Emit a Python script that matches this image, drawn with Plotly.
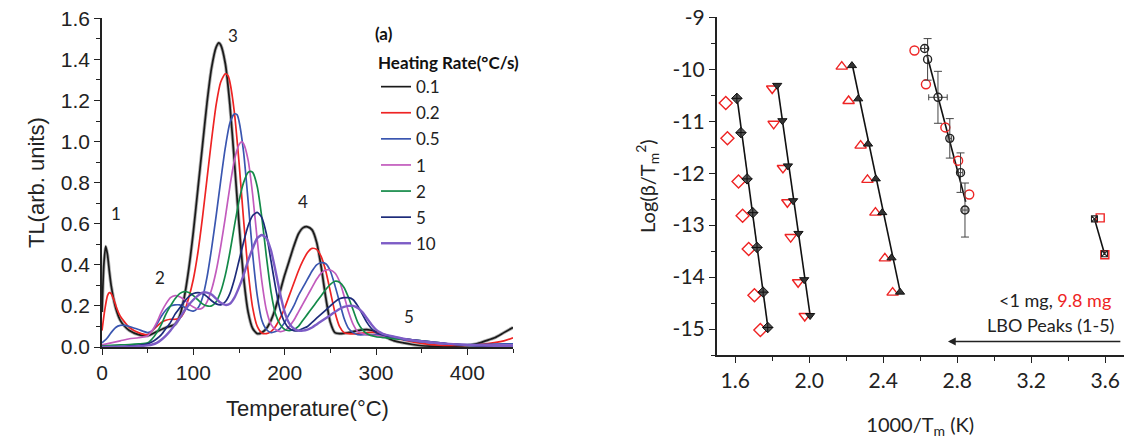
import plotly.graph_objects as go

# ---------------- Left panel: TL glow curves ----------------
rates = ["0.1", "0.2", "0.5", "1", "2", "5", "10"]
colors = ["#1a1a1a", "#ee2424", "#3a56b0", "#c25bbd", "#138a48", "#1d2b7a", "#7d5cc6"]

T_01 = [0, 2, 4, 6, 8, 10, 15, 20, 25, 30, 40, 50, 60, 70, 80, 85, 90, 95, 100, 105, 110, 115, 120, 125, 128, 130,
        135, 140, 145, 150, 155, 160, 165, 170, 175, 180, 185, 190, 195, 200, 205, 210, 215, 220, 225, 230, 235, 240,
        245, 250, 255, 260, 270, 280, 290, 300, 310, 320, 330, 340, 350, 360, 380, 400, 410, 420, 430, 440, 450]
TL_01 = [0.17, 0.40, 0.49, 0.45, 0.37, 0.30, 0.19, 0.13, 0.10, 0.08, 0.06, 0.055, 0.075, 0.095, 0.11, 0.15, 0.24,
         0.38, 0.56, 0.77, 0.98, 1.19, 1.36, 1.46, 1.48, 1.47, 1.38, 1.18, 0.90, 0.60, 0.34, 0.17, 0.09, 0.065, 0.07,
         0.09, 0.13, 0.19, 0.27, 0.35, 0.42, 0.49, 0.55, 0.58, 0.585, 0.57, 0.51, 0.39, 0.24, 0.12, 0.07, 0.065, 0.07,
         0.08, 0.085, 0.075, 0.05, 0.03, 0.02, 0.012, 0.006, 0.004, 0.003, 0.008, 0.015, 0.03, 0.045, 0.07, 0.095]

T_02 = [0, 3, 6, 8, 10, 13, 16, 20, 25, 30, 40, 50, 55, 60, 65, 70, 75, 80, 85, 90, 95, 100, 105, 110, 115, 120, 125,
        130, 135, 138, 140, 145, 150, 155, 160, 165, 170, 175, 180, 185, 190, 195, 200, 205, 210, 215, 220, 225, 230,
        235, 240, 245, 250, 255, 260, 265, 270, 280, 290, 300, 310, 320, 330, 340, 350, 360, 380, 400, 420, 440, 450]
TL_02 = [0.08, 0.18, 0.25, 0.265, 0.26, 0.23, 0.19, 0.15, 0.12, 0.095, 0.07, 0.06, 0.08, 0.10, 0.12, 0.13, 0.135,
         0.135, 0.14, 0.17, 0.24, 0.33, 0.46, 0.63, 0.82, 1.01, 1.18, 1.29, 1.33, 1.32, 1.29, 1.14, 0.90, 0.62, 0.37,
         0.19, 0.10, 0.068, 0.065, 0.075, 0.10, 0.14, 0.19, 0.25, 0.31, 0.37, 0.42, 0.46, 0.48, 0.475, 0.44, 0.37,
         0.27, 0.17, 0.10, 0.07, 0.065, 0.065, 0.07, 0.07, 0.06, 0.045, 0.035, 0.025, 0.018, 0.012, 0.008, 0.008,
         0.015, 0.03, 0.045]

T_05 = [0, 5, 10, 15, 20, 25, 30, 40, 50, 55, 60, 65, 70, 75, 80, 85, 90, 95, 100, 105, 110, 115, 120, 125, 130, 135,
        140, 145, 148, 150, 155, 160, 165, 170, 175, 180, 185, 190, 195, 200, 205, 210, 215, 220, 225, 230, 235, 240,
        245, 250, 255, 260, 265, 270, 275, 280, 290, 300, 310, 320, 330, 340, 350, 360, 380, 400, 420, 440, 450]
TL_05 = [0.02, 0.04, 0.07, 0.095, 0.105, 0.105, 0.10, 0.085, 0.07, 0.08, 0.11, 0.15, 0.18, 0.20, 0.205, 0.205, 0.195,
         0.18, 0.175, 0.19, 0.24, 0.34, 0.48, 0.64, 0.81, 0.97, 1.09, 1.135, 1.13, 1.10, 0.95, 0.71, 0.45, 0.25, 0.13,
         0.085, 0.07, 0.075, 0.09, 0.12, 0.16, 0.20, 0.25, 0.29, 0.33, 0.37, 0.40, 0.41, 0.405, 0.37, 0.30, 0.22,
         0.14, 0.09, 0.07, 0.06, 0.06, 0.06, 0.055, 0.045, 0.035, 0.03, 0.025, 0.02, 0.015, 0.012, 0.013, 0.015, 0.015]

T_1 = [0, 10, 20, 30, 40, 50, 55, 60, 65, 70, 75, 80, 85, 90, 95, 100, 105, 110, 115, 120, 125, 130, 135, 140, 145,
       150, 153, 155, 160, 165, 170, 175, 180, 185, 190, 195, 200, 205, 210, 215, 220, 225, 230, 235, 240, 245, 250,
       255, 260, 265, 270, 275, 280, 290, 300, 310, 320, 330, 340, 350, 360, 380, 400, 420, 440, 450]
TL_1 = [0.01, 0.02, 0.03, 0.04, 0.045, 0.055, 0.08, 0.12, 0.17, 0.21, 0.24, 0.25, 0.245, 0.23, 0.21, 0.195, 0.185,
        0.19, 0.22, 0.28, 0.37, 0.49, 0.63, 0.78, 0.91, 0.985, 1.0, 0.99, 0.91, 0.74, 0.52, 0.32, 0.18, 0.11, 0.085,
        0.075, 0.08, 0.10, 0.13, 0.17, 0.21, 0.25, 0.29, 0.33, 0.36, 0.375, 0.375, 0.36, 0.32, 0.25, 0.17, 0.11,
        0.075, 0.06, 0.055, 0.05, 0.045, 0.04, 0.035, 0.028, 0.022, 0.015, 0.01, 0.008, 0.008, 0.008]

T_2 = [0, 10, 20, 30, 40, 50, 55, 60, 65, 70, 75, 80, 85, 90, 95, 100, 105, 110, 115, 120, 125, 130, 135, 140, 145,
       150, 155, 160, 163, 165, 170, 175, 180, 185, 190, 195, 200, 205, 210, 215, 220, 225, 230, 235, 240, 245, 250,
       255, 260, 265, 270, 275, 280, 285, 290, 300, 310, 320, 330, 340, 350, 360, 380, 400, 420, 440, 450]
TL_2 = [0.005, 0.008, 0.01, 0.012, 0.015, 0.02, 0.04, 0.07, 0.11, 0.16, 0.20, 0.235, 0.26, 0.27, 0.265, 0.25, 0.23,
        0.21, 0.20, 0.20, 0.22, 0.27, 0.35, 0.46, 0.59, 0.71, 0.80, 0.85, 0.855, 0.85, 0.78, 0.63, 0.44, 0.27, 0.16,
        0.11, 0.085, 0.08, 0.085, 0.10, 0.13, 0.16, 0.19, 0.22, 0.25, 0.28, 0.305, 0.32, 0.315, 0.29, 0.24, 0.18,
        0.12, 0.085, 0.065, 0.05, 0.045, 0.04, 0.038, 0.035, 0.03, 0.025, 0.015, 0.008, 0.005, 0.005, 0.005]

T_5 = [0, 20, 30, 40, 50, 55, 60, 65, 70, 75, 80, 85, 90, 95, 100, 105, 110, 115, 120, 125, 130, 135, 140, 145, 150,
       155, 160, 165, 170, 175, 180, 185, 190, 195, 200, 205, 210, 215, 220, 225, 230, 235, 240, 245, 250, 255, 260,
       265, 270, 275, 280, 285, 290, 295, 300, 310, 320, 330, 340, 350, 360, 380, 400, 420, 440, 450]
TL_5 = [0.0, 0.002, 0.005, 0.008, 0.015, 0.025, 0.04, 0.06, 0.09, 0.12, 0.16, 0.19, 0.22, 0.245, 0.26, 0.265, 0.26,
        0.245, 0.225, 0.21, 0.205, 0.22, 0.26, 0.33, 0.42, 0.51, 0.59, 0.64, 0.655, 0.63, 0.55, 0.42, 0.29, 0.18,
        0.12, 0.09, 0.08, 0.08, 0.09, 0.10, 0.12, 0.14, 0.16, 0.18, 0.20, 0.22, 0.235, 0.24, 0.24, 0.23, 0.20, 0.16,
        0.12, 0.09, 0.07, 0.055, 0.048, 0.04, 0.035, 0.03, 0.025, 0.015, 0.008, 0.004, 0.003, 0.003]

T_10 = [0, 20, 30, 40, 50, 55, 60, 65, 70, 75, 80, 85, 90, 95, 100, 105, 110, 115, 120, 125, 130, 135, 140, 145, 150,
        155, 160, 165, 170, 175, 180, 185, 190, 195, 200, 205, 210, 215, 220, 225, 230, 235, 240, 245, 250, 255, 260,
        265, 270, 275, 280, 285, 290, 295, 300, 305, 310, 320, 330, 340, 350, 360, 380, 400, 420, 440, 450]
TL_10 = [0.0, 0.001, 0.002, 0.004, 0.008, 0.012, 0.02, 0.035, 0.055, 0.08, 0.11, 0.14, 0.175, 0.205, 0.23, 0.25,
         0.265, 0.265, 0.255, 0.235, 0.215, 0.205, 0.21, 0.24, 0.29, 0.35, 0.42, 0.48, 0.53, 0.545, 0.53, 0.47, 0.37,
         0.26, 0.17, 0.115, 0.09, 0.08, 0.08, 0.085, 0.095, 0.11, 0.125, 0.14, 0.155, 0.17, 0.185, 0.195, 0.20, 0.20,
         0.19, 0.17, 0.14, 0.11, 0.085, 0.07, 0.06, 0.05, 0.04, 0.033, 0.028, 0.023, 0.015, 0.01, 0.007, 0.006, 0.006]

T_all = [T_01, T_02, T_05, T_1, T_2, T_5, T_10]
TL_all = [TL_01, TL_02, TL_05, TL_1, TL_2, TL_5, TL_10]

peak_labels = ["1", "2", "3", "4", "5"]
peak_label_T = [15, 63, 143, 220, 336]
peak_label_TL = [0.652, 0.336, 1.514, 0.71, 0.15]

# ---------------- Right panel: Log(beta/Tm^2) vs 1000/Tm ----------------
p1_black_x = [3.542, 3.596]
p1_black_y = [-12.88, -13.55]
p1_red_x = [3.573, 3.598]
p1_red_y = [-12.86, -13.57]

p2_black_x = [2.624, 2.640, 2.696, 2.760, 2.818, 2.842]
p2_black_y = [-9.60, -9.81, -10.54, -11.33, -11.99, -12.71]
p2_err_y = [0.0, 0.40, 0.50, 0.38, 0.38, 0.52]
p2_err_x = [0.0, 0.0, 0.05, 0.01, 0.012, 0.012]
p2_red_x = [2.569, 2.631, 2.736, 2.805, 2.865]
p2_red_y = [-9.64, -10.29, -11.12, -11.76, -12.41]

p3_black_x = [2.231, 2.265, 2.318, 2.360, 2.395, 2.445, 2.491]
p3_black_y = [-9.93, -10.57, -11.44, -12.11, -12.76, -13.63, -14.29]
p3_red_x = [2.176, 2.213, 2.278, 2.315, 2.358, 2.409, 2.451]
p3_red_y = [-9.95, -10.61, -11.47, -12.13, -12.76, -13.64, -14.30]

p4_black_x = [1.827, 1.855, 1.885, 1.913, 1.942, 1.973, 2.005]
p4_black_y = [-10.31, -10.99, -11.86, -12.53, -13.16, -14.05, -14.74]
p4_red_x = [1.800, 1.808, 1.858, 1.882, 1.900, 1.940, 1.976]
p4_red_y = [-10.37, -11.05, -11.90, -12.56, -13.23, -14.10, -14.75]

p5_black_x = [1.609, 1.631, 1.664, 1.695, 1.718, 1.751, 1.776]
p5_black_y = [-10.56, -11.22, -12.11, -12.76, -13.43, -14.29, -14.97]
p5_red_x = [1.549, 1.558, 1.618, 1.640, 1.673, 1.704, 1.736]
p5_red_y = [-10.65, -11.33, -12.16, -12.82, -13.46, -14.35, -15.02]

fit_x = [[3.542, 3.597], [2.636, 2.846], [2.231, 2.494], [1.827, 2.006], [1.609, 1.777]]
fit_y = [[-12.88, -13.56], [-9.72, -12.55], [-9.88, -14.32], [-10.28, -14.76], [-10.52, -14.98]]

y2_ticks = [-15, -14, -13, -12, -11, -10, -9]
y2_ticklabels = ["-15", "-14", "-13", "-12", "-11", "-10", "-9"]

fig = go.Figure()

# TL band (uncertainty look) and curves
fig.add_trace(go.Scatter(x=T_01, y=TL_01, mode="lines",
                         line=dict(color="rgba(110,110,110,0.55)", width=3.4, shape="spline", smoothing=0.6),
                         showlegend=False, hoverinfo="skip", xaxis="x", yaxis="y"))
for T, TL, name, c in zip(T_all, TL_all, rates, colors):
    w = 2.4 if name == "10" else 1.7
    fig.add_trace(go.Scatter(x=T, y=TL, mode="lines", name=name, legendgroup=name,
                             line=dict(color=c, width=w, shape="spline", smoothing=0.6),
                             xaxis="x", yaxis="y"))

# Right panel fit lines
for fx, fy in zip(fit_x, fit_y):
    fig.add_trace(go.Scatter(x=fx, y=fy, mode="lines", line=dict(color="#111", width=1.6),
                             showlegend=False, xaxis="x2", yaxis="y2"))

red = "#ee2424"
red_sets = [(p1_red_x, p1_red_y, "square-open", 8), (p2_red_x, p2_red_y, "circle-open", 9),
            (p3_red_x, p3_red_y, "triangle-up-open", 10), (p4_red_x, p4_red_y, "triangle-down-open", 10),
            (p5_red_x, p5_red_y, "diamond-open", 10)]
for rx, ry, sym, sz in red_sets:
    fig.add_trace(go.Scatter(x=rx, y=ry, mode="markers", marker=dict(symbol=sym, size=sz, color=red, line=dict(width=1.4)),
                             showlegend=False, xaxis="x2", yaxis="y2"))

fig.add_trace(go.Scatter(x=p1_black_x, y=p1_black_y, mode="markers",
                         marker=dict(symbol="square-x-open", size=6, color="#222", line=dict(width=1.1)),
                         showlegend=False, xaxis="x2", yaxis="y2"))
fig.add_trace(go.Scatter(x=p2_black_x, y=p2_black_y, mode="markers",
                         marker=dict(symbol="circle-open", size=8, color="#222", line=dict(width=1.4)),
                         error_y=dict(type="data", array=p2_err_y, color="#444", thickness=1, width=4),
                         error_x=dict(type="data", array=p2_err_x, color="#444", thickness=1, width=3),
                         showlegend=False, xaxis="x2", yaxis="y2"))
fig.add_trace(go.Scatter(x=p3_black_x, y=p3_black_y, mode="markers",
                         marker=dict(symbol="triangle-up", size=8, color="#333", line=dict(color="#111", width=1)),
                         showlegend=False, xaxis="x2", yaxis="y2"))
fig.add_trace(go.Scatter(x=p4_black_x, y=p4_black_y, mode="markers",
                         marker=dict(symbol="triangle-down", size=8, color="#333", line=dict(color="#111", width=1)),
                         showlegend=False, xaxis="x2", yaxis="y2"))
fig.add_trace(go.Scatter(x=p5_black_x, y=p5_black_y, mode="markers",
                         marker=dict(symbol="diamond-cross", size=8, color="#555", line=dict(color="#111", width=1)),
                         showlegend=False, xaxis="x2", yaxis="y2"))

arial = "Liberation Sans, Arial, sans-serif"
cal = "Lato, Open Sans, sans-serif"

annotations = []
for lab, tx, ty in zip(peak_labels, peak_label_T, peak_label_TL):
    annotations.append(dict(x=tx, y=ty, xref="x", yref="y", text=lab, showarrow=False,
                            font=dict(family=cal, size=17, color="#222")))
annotations.append(dict(x=373 / 1126, y=1 - 33 / 439, xref="paper", yref="paper", text="<b>(a)</b>",
                        showarrow=False, xanchor="left", yanchor="middle", font=dict(family=cal, size=17, color="#111")))
annotations.append(dict(x=3.64, y=-14.45, xref="x2", yref="y2",
                        text="<1 mg, <span style='color:#ee2424'>9.8 mg</span>", showarrow=False,
                        xanchor="right", yanchor="middle", font=dict(family=cal, size=18, color="#222")))
annotations.append(dict(x=3.66, y=-14.93, xref="x2", yref="y2", text="LBO Peaks (1-5)", showarrow=False,
                        xanchor="right", yanchor="middle", font=dict(family=cal, size=18, color="#222")))
annotations.append(dict(x=2.75, y=-15.24, xref="x2", yref="y2", ax=3.69, ay=-15.24, axref="x2", ayref="y2",
                        text="", showarrow=True, arrowhead=2, arrowsize=1.2, arrowwidth=1.3, arrowcolor="#222"))

axis_common = dict(showline=True, linecolor="#222", linewidth=1.5, ticks="outside", ticklen=6, tickwidth=1.3,
                   tickcolor="#222", showgrid=False, zeroline=False, mirror=False, automargin=False)

fig.update_layout(
    width=1126, height=439, margin=dict(l=0, r=0, t=0, b=0, autoexpand=False),
    paper_bgcolor="white", plot_bgcolor="white",
    xaxis=dict(domain=[102 / 1126, 513 / 1126], range=[0, 450], dtick=100, tick0=0, anchor="y",
               minor=dict(ticks="outside", ticklen=4, dtick=50, tickcolor="#222"),
               title=dict(text="Temperature(°C)", font=dict(family=arial, size=22, color="#222"), standoff=18),
               tickfont=dict(family=arial, size=21, color="#222"), **axis_common),
    yaxis=dict(domain=[1 - 347 / 439, 1 - 18.3 / 439], range=[0, 1.6], dtick=0.2, tick0=0, tickformat=".1f", anchor="x",
               minor=dict(ticks="outside", ticklen=4, dtick=0.1, tickcolor="#222"),
               title=dict(text="TL(arb. units)", font=dict(family=arial, size=22, color="#222"), standoff=10),
               tickfont=dict(family=arial, size=21, color="#222"), **axis_common),
    xaxis2=dict(domain=[716.7 / 1126, 1123.7 / 1126], range=[1.5, 3.7], dtick=0.4, tick0=1.6, tickformat=".1f", anchor="y2",
                minor=dict(ticks="outside", ticklen=4, dtick=0.2, tick0=1.6, tickcolor="#222"),
                title=dict(text="1000/T<sub>m</sub> (K)", font=dict(family=cal, size=20, color="#222"), standoff=28),
                tickfont=dict(family=cal, size=21, color="#222"), **axis_common),
    yaxis2=dict(domain=[1 - 355 / 439, 1 - 17.3 / 439], range=[-15.5, -9], tickmode="array",
                tickvals=y2_ticks, ticktext=y2_ticklabels, anchor="x2",
                minor=dict(ticks="outside", ticklen=4, dtick=0.5, tick0=-9, tickcolor="#222"),
                title=dict(text="Log(β/T<sub>m</sub><sup>2</sup>)", font=dict(family=cal, size=20, color="#222"), standoff=12),
                tickfont=dict(family=cal, size=21, color="#222"), **axis_common),
    legend=dict(x=376 / 1126, y=1 - 47 / 439, xanchor="left", yanchor="top",
                title=dict(text="<b>Heating Rate(°C/s)</b>", font=dict(family=cal, size=17, color="#111")),
                font=dict(family=cal, size=17, color="#222"), tracegroupgap=1, bgcolor="rgba(0,0,0,0)"),
    annotations=annotations,
)

fig.write_html("out.html", config={"displayModeBar": False},
               post_script="document.body.style.margin='0';document.body.style.overflow='hidden';")
